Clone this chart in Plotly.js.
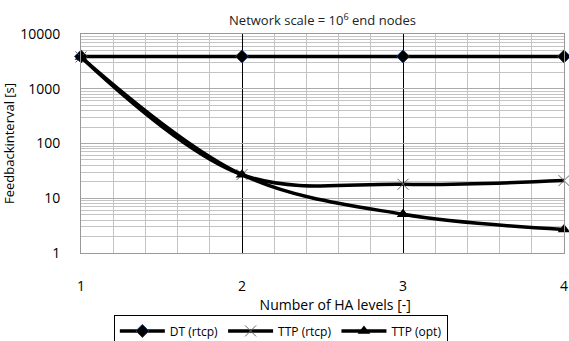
<!DOCTYPE html>
<html><head><meta charset="utf-8">
<script src="https://cdn.plot.ly/plotly-3.0.1.min.js"></script>
<style>html,body{margin:0;padding:0;background:#fff}</style>
</head><body>
<div id="chart" style="width:569px;height:341px"></div>
<script>
const haLevels = [1, 2, 3, 4];
const dtRtcp = [3900, 3900, 3900, 3900];
const ttpRtcp = [3800, 27, 18, 21];
const ttpOpt = [3800, 27, 5.1, 2.7];
const seriesNames = ['DT (rtcp)', 'TTP (rtcp)', 'TTP (opt)'];
const yTickVals = [1, 10, 100, 1000, 10000];
const yTickText = ['1', '10', '100', '1000', '10000'];

const yMinorVals = [];
for (let e = 0; e < 4; e++) for (let d = 2; d <= 9; d++) yMinorVals.push(d * Math.pow(10, e));

const FAM = '"Open Sans", Lato, sans-serif';
const font = {family: FAM, size: 13, color: '#000'};

const traces = [
  {x: haLevels, y: dtRtcp, name: seriesNames[0], mode: 'lines+markers', cliponaxis: false,
   line: {color: '#000', width: 3.5}, marker: {symbol: 'diamond', size: 10, color: '#000', line: {color: '#1f3a6e', width: 1}}},
  {x: haLevels, y: ttpRtcp, name: seriesNames[1], mode: 'lines+markers', cliponaxis: false,
   line: {color: '#000', width: 3.5, shape: 'spline'}, marker: {symbol: 'x-thin', size: 11, color: '#555', line: {color: '#666', width: 1}}},
  {x: haLevels, y: ttpOpt, name: seriesNames[2], mode: 'lines+markers', cliponaxis: false,
   line: {color: '#000', width: 3.5, shape: 'spline'}, marker: {symbol: 'triangle-up', size: 11, color: '#000'}}
];

const layout = {
  width: 569, height: 341,
  margin: {l: 81, r: 5, t: 34, b: 88, autoexpand: false},
  paper_bgcolor: '#fff', plot_bgcolor: '#fff',
  font: font,
  showlegend: true,
  title: {text: 'Network scale = 10<sup>6</sup> end nodes', font: {family: FAM, size: 13, color: '#222'}, x: 0.5, xref: 'paper', xanchor: 'center', y: 0.94, yanchor: 'middle'},
  xaxis: {
    range: [1, 4], tickvals: haLevels, ticktext: haLevels.map(String),
    showgrid: true, gridcolor: '#000', gridwidth: 1,
    zeroline: false, showline: true, linecolor: '#999', linewidth: 1, mirror: true,
    ticks: '', ticklabelstandoff: 20, ticklabeloverflow: 'allow', automargin: false, tickfont: {family: FAM, size: 14},
    minor: {dtick: 0.2, showgrid: true, gridcolor: '#c4c4c4', gridwidth: 1},
    title: {text: '&nbsp;&nbsp;&nbsp;&nbsp;&nbsp;&nbsp;&nbsp;Number of HA levels [-]', font: {family: FAM, size: 14}, standoff: 4}
  },
  yaxis: {
    type: 'log', range: [0, 4], tickvals: yTickVals, ticktext: yTickText,
    showgrid: true, gridcolor: '#aaa', gridwidth: 1,
    zeroline: false, showline: true, linecolor: '#999', linewidth: 1, mirror: true,
    ticks: '', ticklabelstandoff: 17, automargin: false, tickfont: {family: FAM, size: 14},
    minor: {tickvals: yMinorVals, showgrid: true, gridcolor: '#c4c4c4', gridwidth: 1},
    title: {text: 'Feedbackinterval [s]', font: {family: FAM, size: 13}, standoff: 4}
  },
  legend: {orientation: 'h', x: 0.068, xanchor: 'left', y: -0.285, yanchor: 'top',
    bordercolor: '#000', borderwidth: 1, font: {family: FAM, size: 12}, tracegroupgap: 0, itemwidth: 45}
};

Plotly.newPlot('chart', traces, layout, {displayModeBar: false, staticPlot: true});
</script>
</body></html>
